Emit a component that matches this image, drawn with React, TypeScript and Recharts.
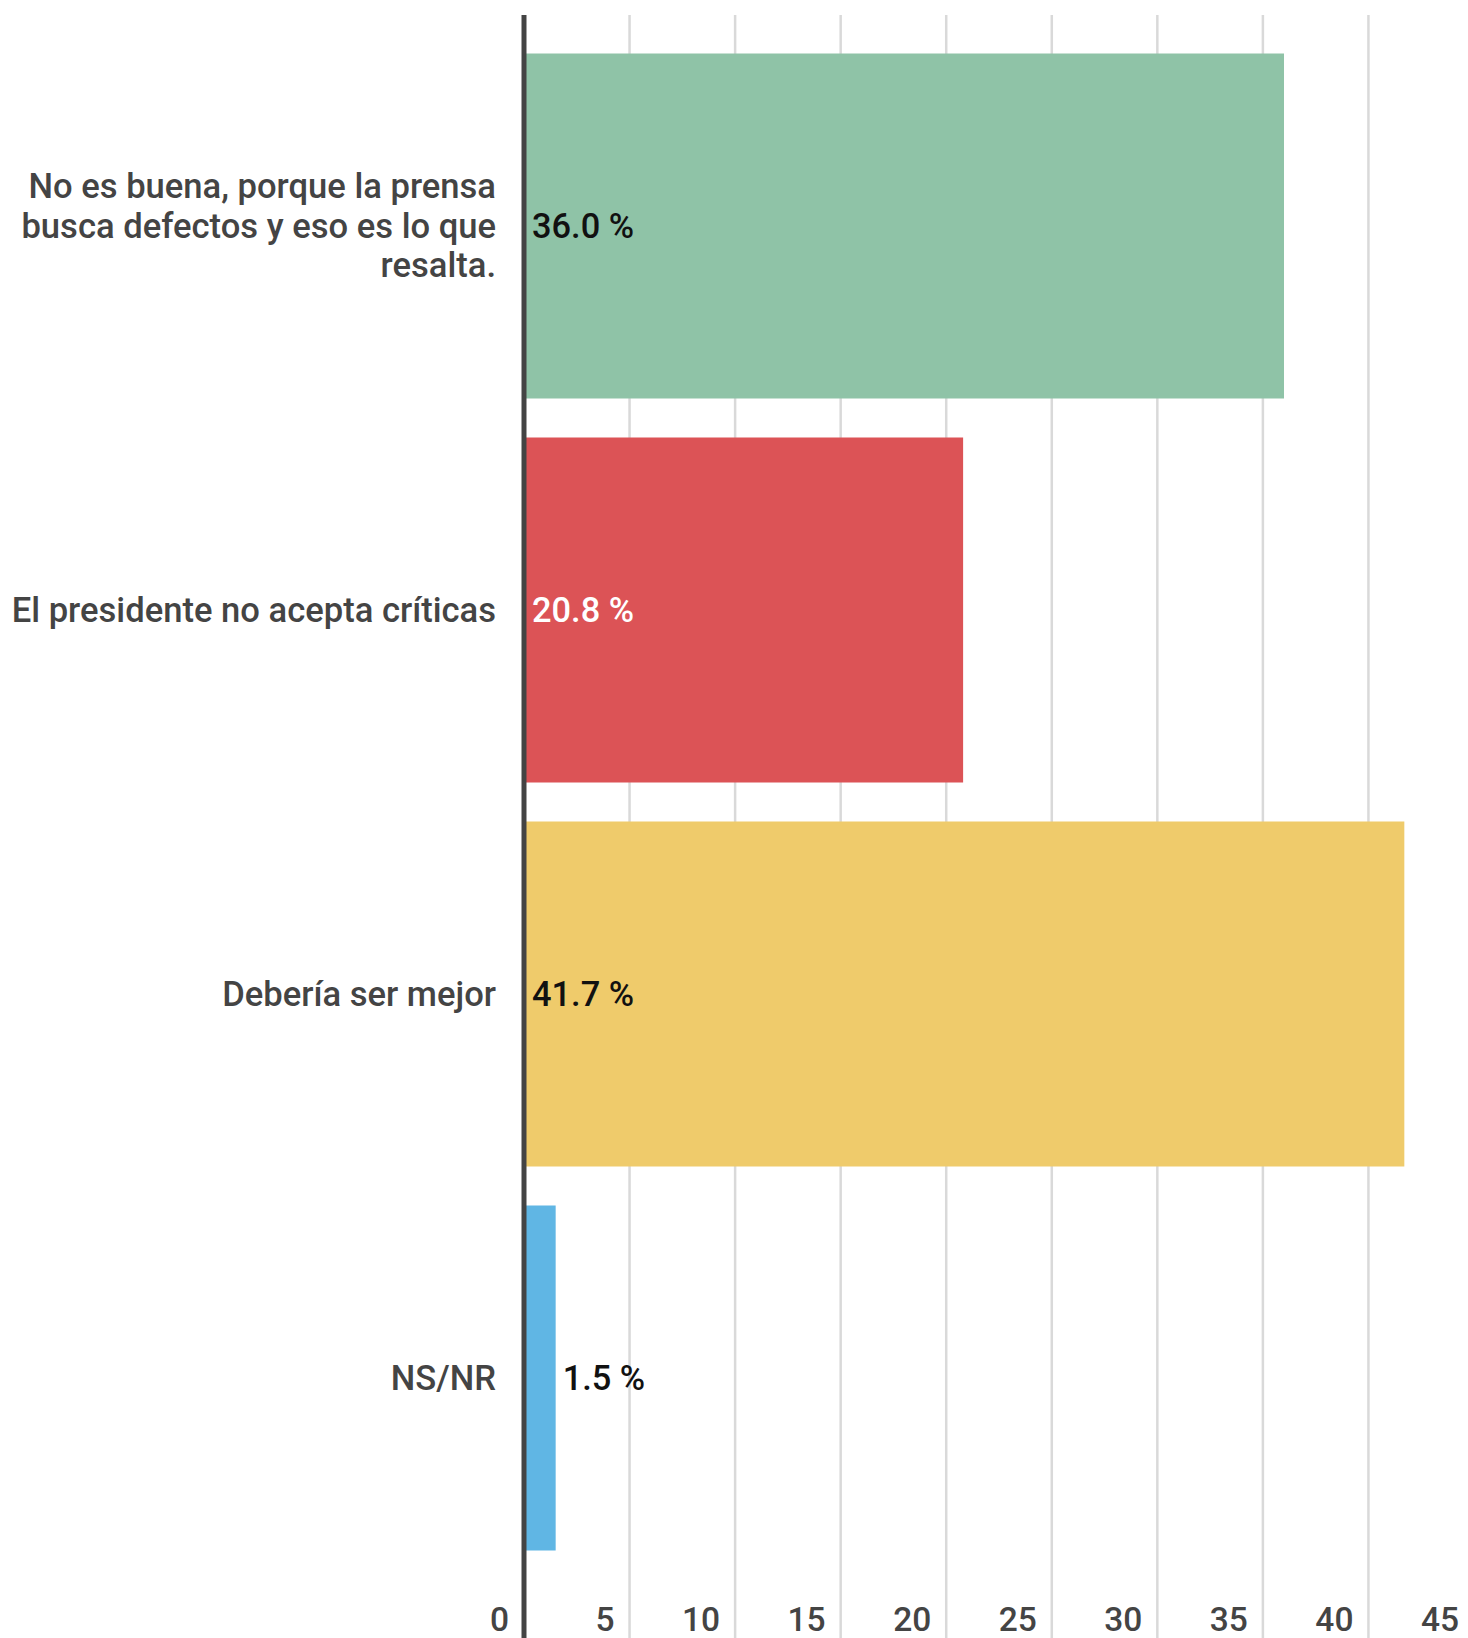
import React from "react";
import { BarChart, Bar, XAxis, YAxis, CartesianGrid, Cell, LabelList, ReferenceLine } from "recharts";

const categories = [
  "No es buena, porque la prensa busca defectos y eso es lo que resalta.",
  "El presidente no acepta críticas",
  "Debería ser mejor",
  "NS/NR",
];
const values = [36.0, 20.8, 41.7, 1.5];
const xTicks = [0, 5, 10, 15, 20, 25, 30, 35, 40, 45];

const barColors = ["#8FC3A7", "#DC5356", "#EFCB6B", "#60B6E4"];
const labelColors = ["#111111", "#FFFFFF", "#111111", "#111111"];

const data = categories.map((c, i) => ({ name: c, value: values[i], idx: i }));

const FONT = "Roboto, 'Noto Sans', sans-serif";

function wrap(text: string, maxChars: number): string[] {
  const words = text.split(" ");
  const lines: string[] = [];
  let cur = "";
  for (const w of words) {
    const next = cur ? cur + " " + w : w;
    if (next.length > maxChars && cur) {
      lines.push(cur);
      cur = w;
    } else {
      cur = next;
    }
  }
  if (cur) lines.push(cur);
  return lines;
}

const YTick = (props: any) => {
  const { x, y, payload } = props;
  const lines = wrap(String(payload.value), 32);
  const lh = 39.7;
  const start = y - ((lines.length - 1) * lh) / 2;
  return (
    <text
      x={x - 20}
      y={start}
      textAnchor="end"
      dominantBaseline="central"
      fill="#444444"
      fontFamily={FONT}
      fontWeight={500}
      fontSize={34.6}
    >
      {lines.map((l, i) => (
        <tspan key={i} x={x - 20} y={start + i * lh} dominantBaseline="central">
          {l}
        </tspan>
      ))}
    </text>
  );
};

const XTick = (props: any) => {
  const { x, y, payload } = props;
  return (
    <text
      x={x - 15}
      y={y - 37}
      textAnchor="end"
      fill="#444444"
      fontFamily={FONT}
      fontWeight={500}
      fontSize={33.5}
    >
      {payload.value}
    </text>
  );
};

const ValueLabel = (props: any) => {
  const { x, y, width, height, value, index } = props;
  const text = `${Number(value).toFixed(1)} %`;
  const inside = width > 110;
  const tx = inside ? x + 8 : x + width + 7;
  const fill = inside ? labelColors[index] : "#111111";
  return (
    <text
      x={tx}
      y={y + height / 2}
      dominantBaseline="central"
      textAnchor="start"
      fill={fill}
      fontFamily={FONT}
      fontWeight={500}
      fontSize={34.4}
    >
      {text}
    </text>
  );
};

export default function App() {
  return (
    <div
      style={{
        position: "fixed",
        top: 0,
        left: 0,
        width: 1468,
        height: 1638,
        overflow: "hidden",
        background: "#ffffff",
      }}
    >
      <BarChart
        width={1474}
        height={1680}
        data={data}
        layout="vertical"
        margin={{ top: 15, right: 0, bottom: 0, left: 0 }}
      >
        <CartesianGrid horizontal={false} stroke="#D9D9D9" strokeWidth={2.5} />
        <XAxis
          type="number"
          domain={[0, 45]}
          ticks={xTicks}
          axisLine={false}
          tickLine={false}
          height={20}
          tick={<XTick />}
          interval={0}
        />
        <YAxis
          type="category"
          dataKey="name"
          width={524}
          axisLine={false}
          tickLine={false}
          tick={<YTick />}
          interval={0}
          padding={{ top: 18.5, bottom: 90.5 }}
        />
        <Bar dataKey="value" barSize={345} isAnimationActive={false}>
          {data.map((d, i) => (
            <Cell key={i} fill={barColors[i]} />
          ))}
          <LabelList dataKey="value" content={<ValueLabel />} />
        </Bar>
        <ReferenceLine x={0} stroke="#444444" strokeWidth={5} />
      </BarChart>
    </div>
  );
}
